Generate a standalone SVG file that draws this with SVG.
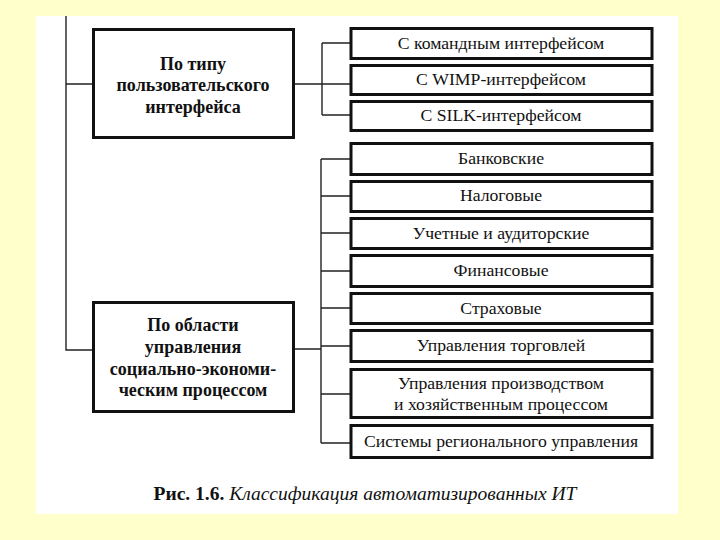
<svg xmlns="http://www.w3.org/2000/svg" width="720" height="540" viewBox="0 0 720 540">
<style>
.box{fill:#fff;stroke:#111;stroke-width:3}
.ln{fill:none;stroke:#222;stroke-width:1.4}
.t{font-family:"Liberation Serif","DejaVu Serif",serif;font-size:17.7px;fill:#111;text-anchor:middle}
.b{font-family:"Liberation Serif","DejaVu Serif",serif;font-size:18px;font-weight:bold;fill:#111;text-anchor:middle}
</style>
<rect x="0" y="0" width="720" height="540" fill="#FFFFCC"/>
<rect x="36" y="16" width="642" height="498" fill="#fff"/>
<g id="connectors">
<path class="ln" d="M66,16 V350 H93 M66,84 H93"/>
<path class="ln" d="M294,84 H350 M322,43 V115 M322,43 H350 M322,115 H350"/>
<path class="ln" d="M294,349 H321 M321,159 V443 M321,159 H350 M321,196 H350 M321,233 H350 M321,271 H350 M321,308 H350 M321,346 H350 M321,394 H350 M321,443 H350"/>
</g>
<g id="n-ui">
<rect class="box" x="93.5" y="29.5" width="200" height="108"/>
<text class="b" x="193" y="70">По типу</text>
<text class="b" x="193" y="91">пользовательского</text>
<text class="b" x="193" y="113">интерфейса</text>
</g>
<g id="n-area">
<rect class="box" x="93.5" y="302.5" width="200" height="109"/>
<text class="b" x="193" y="331">По области</text>
<text class="b" x="193" y="353">управления</text>
<text class="b" x="193" y="375">социально-экономи-</text>
<text class="b" x="193" y="396">ческим процессом</text>
</g>
<g id="n-cmd"><rect class="box" x="351" y="28.5" width="301" height="30"/><text class="t" x="501" y="49">С командным интерфейсом</text></g>
<g id="n-wimp"><rect class="box" x="351" y="65.5" width="301" height="29"/><text class="t" x="501" y="85">С WIMP-интерфейсом</text></g>
<g id="n-silk"><rect class="box" x="351" y="101.5" width="301" height="29"/><text class="t" x="501" y="121">С SILK-интерфейсом</text></g>
<g id="n-bank"><rect class="box" x="351" y="143.5" width="301" height="31"/><text class="t" x="501" y="164">Банковские</text></g>
<g id="n-tax"><rect class="box" x="351" y="181.5" width="301" height="30"/><text class="t" x="501" y="201">Налоговые</text></g>
<g id="n-audit"><rect class="box" x="351" y="218.5" width="301" height="30"/><text class="t" x="501" y="239">Учетные и аудиторские</text></g>
<g id="n-fin"><rect class="box" x="351" y="255.5" width="301" height="31"/><text class="t" x="501" y="276">Финансовые</text></g>
<g id="n-ins"><rect class="box" x="351" y="293.5" width="301" height="30"/><text class="t" x="501" y="314">Страховые</text></g>
<g id="n-trade"><rect class="box" x="351" y="330.5" width="301" height="31"/><text class="t" x="501" y="351">Управления торговлей</text></g>
<g id="n-prod"><rect class="box" x="351" y="369.5" width="301" height="48"/><text class="t" x="501" y="389">Управления производством</text><text class="t" x="501" y="410">и хозяйственным процессом</text></g>
<g id="n-reg"><rect class="box" x="351" y="425.5" width="301" height="32"/><text class="t" x="501" y="447">Системы регионального управления</text></g>
<text x="365" y="500" font-family="'Liberation Serif','DejaVu Serif',serif" font-size="19.5" fill="#111" text-anchor="middle"><tspan font-weight="bold">Рис. 1.6.</tspan> <tspan font-style="italic">Классификация автоматизированных ИТ</tspan></text>
</svg>
